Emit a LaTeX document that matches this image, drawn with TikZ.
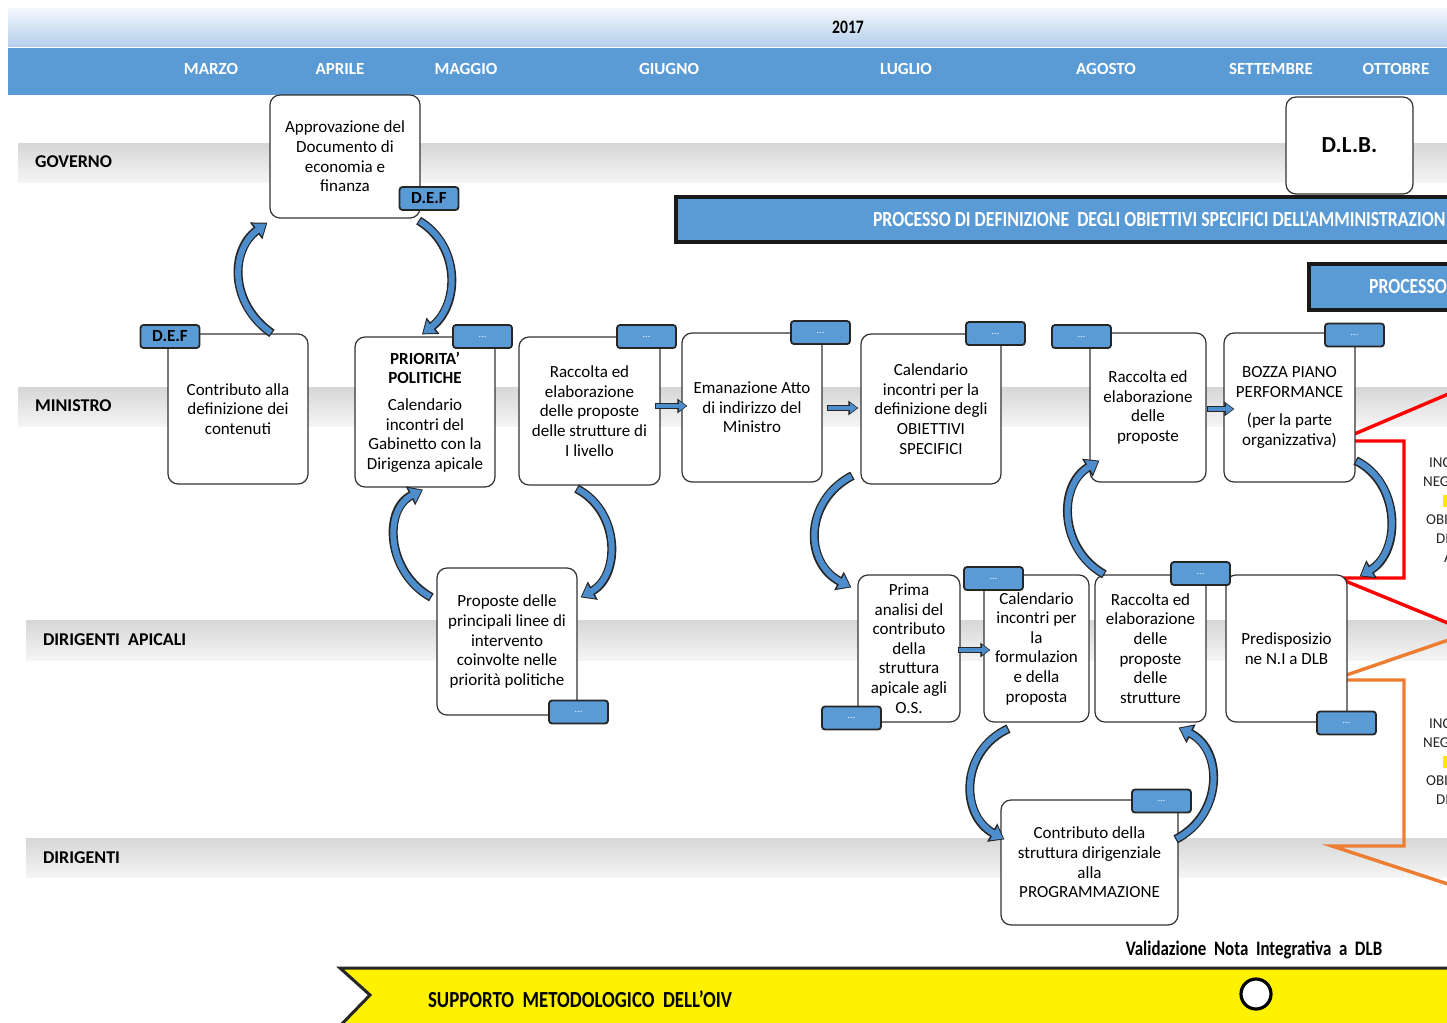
\documentclass[tikz,border=0pt]{standalone}
\usepackage{fontspec}
\setmainfont{Carlito}
\newfontfamily\narrowfont{Carlito}[FakeStretch=0.82]
\usetikzlibrary{arrows.meta,calc}

\definecolor{bandblue}{HTML}{5B9BD5}
\definecolor{headblue}{HTML}{B4CFEC}
\definecolor{arrblue}{HTML}{4E8DCC}
\definecolor{calloutorange}{HTML}{ED7D31}

\begin{document}
\begin{tikzpicture}[
    x=0.5pt, y=-0.5pt,
    box/.style={rectangle, draw=black!80, fill=white, line width=0.6pt, rounded corners=5pt, align=center, inner sep=1pt, font=\fontsize{8.5}{9.8}\selectfont},
    tag/.style={rectangle, draw=black!85, fill=bandblue, line width=0.9pt, rounded corners=1.5pt, minimum width=29.5pt, minimum height=11.5pt, inner sep=0pt, text=white, font=\fontsize{5}{5}\selectfont},
    deftag/.style={tag, text=black, font=\bfseries\fontsize{8.5}{9}\selectfont},
    lane/.style={top color=gray!32, bottom color=gray!8},
    lanelabel/.style={anchor=west, font=\bfseries\fontsize{9}{10}\selectfont},
    month/.style={text=white, font=\bfseries\fontsize{8.5}{10}\selectfont},
    banner/.style={draw=black!90, line width=1.6pt, fill=bandblue},
    bannertext/.style={anchor=west, text=white, font=\narrowfont\bfseries\fontsize{10.8}{12}\selectfont},
    sidetext/.style={anchor=west, text=black!85, font=\fontsize{7.5}{8}\selectfont},
    curvarrow/.style={draw=black!85, line width=4.5pt, -{Triangle[width=10pt,length=7pt]},
        postaction={draw=arrblue, line width=3pt, -{Triangle[width=7.6pt,length=5.4pt]}, shorten >=0.8pt, shorten <=0.6pt}},
    flatarrow/.style={draw=black!85, line width=3.2pt, -{Triangle[width=7pt,length=5pt]},
        postaction={draw=arrblue, line width=2pt, -{Triangle[width=5pt,length=3.6pt]}, shorten >=0.6pt, shorten <=0.5pt}}
]
\useasboundingbox (0,0) rectangle (1447,1023);
\clip (0,0) rectangle (1447,1023);
\fill[white] (0,0) rectangle (1447,1023);

% Timeline
\shade[top color=headblue!15, bottom color=headblue] (8,8) rectangle (1447,46);
\fill[bandblue] (8,48) rectangle (1447,95);
\node[font=\narrowfont\bfseries\fontsize{9.5}{10}\selectfont] (year) at (848,27) {2017};
\node[month] (mar) at (211,69) {MARZO};
\node[month] (apr) at (340,69) {APRILE};
\node[month] (mag) at (466,69) {MAGGIO};
\node[month] (giu) at (669,69) {GIUGNO};
\node[month] (lug) at (906,69) {LUGLIO};
\node[month] (ago) at (1106,69) {AGOSTO};
\node[month] (set) at (1271,69) {SETTEMBRE};
\node[month] (ott) at (1396,69) {OTTOBRE};

% Lanes
\shade[lane] (18,143) rectangle (1447,182);
\shade[lane] (18,387) rectangle (1447,426);
\shade[lane] (26,620) rectangle (1447,660);
\shade[lane] (26,838) rectangle (1447,877);
\node[lanelabel] (governo) at (28,162) {GOVERNO};
\node[lanelabel] (ministro) at (28,406) {MINISTRO};
\node[lanelabel] (apicali) at (36,640) {DIRIGENTI~~APICALI};
\node[lanelabel] (dirigenti) at (36,858) {DIRIGENTI};

% Banners
\draw[banner] (676,197) rectangle (1460,242);
\node[bannertext] (procobj) at (866,219) {PROCESSO DI DEFINIZIONE~~DEGLI OBIETTIVI SPECIFICI DELL'AMMINISTRAZION};
\draw[banner] (1309,264) rectangle (1460,310);
\node[bannertext] (proc) at (1362,286) {PROCESSO};

% Callouts
\draw[red, line width=1.7pt] (1460,389) -- (1338,441) -- (1404,441) -- (1404,578) -- (1338,578) -- (1460,628);
\draw[calloutorange, line width=1.7pt] (1460,636) -- (1332,680) -- (1404,680) -- (1404,846) -- (1332,846) -- (1460,888);
\node[sidetext] (inc1) at (1422,463) {INC};
\node[sidetext] (neg1) at (1416,482) {NEG};
\fill[yellow!90!orange] (1443,495) rectangle (1447,507);
\node[sidetext] (obi1) at (1419,520) {OBI};
\node[sidetext] (di1) at (1429,539) {DI};
\node[sidetext] (a1) at (1437,558) {A};
\node[sidetext] (inc2) at (1422,724) {INC};
\node[sidetext] (neg2) at (1416,743) {NEG};
\fill[yellow!90!orange] (1443,756) rectangle (1447,768);
\node[sidetext] (obi2) at (1419,781) {OBI};
\node[sidetext] (di2) at (1429,800) {DI};

% Activities
\node[box, minimum width=75pt, minimum height=61.5pt] (approv) at (345,156.5) {Approvazione del\\Documento di\\economia e\\finanza};
\node[box, minimum width=63.5pt, minimum height=48.5pt, font=\bfseries\fontsize{11.5}{12}\selectfont] (dlb) at (1349.5,145.5) {D.L.B.};
\node[box, minimum width=70pt, minimum height=75pt] (contrib) at (238,409) {Contributo alla\\definizione dei\\contenuti};
\node[box, minimum width=70pt, minimum height=75pt] (prior) at (425,412) {\textbf{PRIORITA’}\\\textbf{POLITICHE}\\[3.5pt]Calendario\\incontri del\\Gabinetto con la\\Dirigenza apicale};
\node[box, minimum width=70.5pt, minimum height=74pt] (raccI) at (589.5,411) {Raccolta ed\\elaborazione\\delle proposte\\delle strutture di\\I livello};
\node[box, minimum width=70pt, minimum height=74.5pt] (emanaz) at (752,407.5) {Emanazione Atto\\di indirizzo del\\Ministro};
\node[box, minimum width=70pt, minimum height=75pt] (calOS) at (931,409) {Calendario\\incontri per la\\definizione degli\\OBIETTIVI\\SPECIFICI};
\node[box, minimum width=58pt, minimum height=74.5pt] (raccP) at (1148,407.5) {Raccolta ed\\elaborazione\\delle\\proposte};
\node[box, minimum width=65.5pt, minimum height=74.5pt] (bozza) at (1289.5,407.5) {BOZZA PIANO\\PERFORMANCE\\[4.5pt](per la parte\\organizzativa)};
\node[box, minimum width=70pt, minimum height=73.5pt] (propos) at (507,641.5) {Proposte delle\\principali linee di\\intervento\\coinvolte nelle\\priorità politiche};
\node[box, minimum width=51pt, minimum height=73.5pt] (prima) at (909,648.5) {Prima\\analisi del\\contributo\\della\\struttura\\apicale agli\\O.S.};
\node[box, minimum width=52.5pt, minimum height=73.5pt] (calform) at (1036.5,648.5) {Calendario\\incontri per\\la\\formulazion\\e della\\proposta};
\node[box, minimum width=55.5pt, minimum height=73.5pt] (raccS) at (1150.5,648.5) {Raccolta ed\\elaborazione\\delle\\proposte\\delle\\strutture};
\node[box, minimum width=60.5pt, minimum height=73.5pt] (predisp) at (1286.5,648.5) {Predisposizio\\ne N.I a DLB};
\node[box, minimum width=88.5pt, minimum height=62.5pt] (contribD) at (1089.5,862.5) {Contributo della\\struttura dirigenziale\\alla\\PROGRAMMAZIONE};

% Tags
\node[deftag] (tApprov) at (429,198.5) {D.E.F};
\node[deftag] (tContrib) at (170,336.5) {D.E.F};
\node[tag] (tPrior) at (482.5,336.5) {...};
\node[tag] (tRaccI) at (646.5,336.5) {...};
\node[tag] (tEmanaz) at (820.5,332.5) {...};
\node[tag] (tCalOS) at (995.5,333.5) {...};
\node[tag] (tRaccP) at (1081.5,336.5) {...};
\node[tag] (tBozza) at (1354.5,335) {...};
\node[tag] (tPropos) at (578.5,712) {...};
\node[tag] (tPrima) at (851.5,718) {...};
\node[tag] (tCalform) at (993.5,578.5) {...};
\node[tag] (tRaccS) at (1200.5,573.5) {...};
\node[tag] (tPredisp) at (1346.5,723) {...};
\node[tag] (tContribD) at (1161.5,801) {...};

% Flows
\draw[curvarrow] ($(contrib.north)+(34,0)$) .. controls +(-42,-29) and +(-38,28) .. ($(approv.south west)+(-2,4)$);
\draw[curvarrow] ($(approv.south east)+(-2,2)$) .. controls +(42,25) and +(38,-30) .. ($(prior.north)+(-3,-2)$);
\draw[curvarrow] ($(propos.north west)+(-5,30)$) .. controls +(-45,-25) and +(-40,20) .. ($(prior.south)+(-2,2)$);
\draw[curvarrow] ($(raccI.south)+(-13,3)$) .. controls +(44,23) and +(40,-22) .. ($(propos.north east)+(3,30)$);
\draw[curvarrow] ($(calOS.south west)+(-8,-9)$) .. controls +(-48,25) and +(-48,-25) .. ($(prima.north west)+(-6,13)$);
\draw[curvarrow] ($(calform.south)+(-28,6)$) .. controls +(-48,22) and +(-45,-25) .. ($(contribD.north west)+(4,40)$);
\draw[curvarrow] ($(contribD.north east)+(-3,40)$) .. controls +(48,-25) and +(45,22) .. ($(raccS.south)+(28,5)$);
\draw[curvarrow] ($(raccS.north west)+(10,0)$) .. controls +(-45,-25) and +(-42,25) .. ($(raccP.south west)+(10,-22)$);
\draw[curvarrow] ($(bozza.south east)+(0,-22)$) .. controls +(45,22) and +(42,-25) .. ($(predisp.north east)+(12,2)$);
\draw[flatarrow] ($(raccI.east)+(-6,-5)$) -- ($(emanaz.west)+(6,-1.5)$);
\draw[flatarrow] ($(emanaz.east)+(4,0.5)$) -- ($(calOS.west)+(-2,-1)$);
\draw[flatarrow] ($(raccP.east)+(0,1.5)$) -- ($(bozza.west)+(11,1.5)$);
\draw[flatarrow] ($(prima.east)+(-3,1.5)$) -- ($(calform.west)+(7,1.5)$);

% OIV support
\draw[fill=yellow, draw=black!85, line width=1.5pt] (340,968) -- (1460,968) -- (1460,1030) -- (336,1030) -- (370,995) -- cycle;
\node[anchor=west, font=\narrowfont\bfseries\fontsize{11.5}{12}\selectfont] (oiv) at (421,999) {SUPPORTO~~METODOLOGICO~~DELL’OIV};
\node[circle, draw=black, line width=1.6pt, fill=white, minimum size=15pt, inner sep=0pt] (valid) at (1256,994) {};
\node[font=\narrowfont\bfseries\fontsize{10.3}{11}\selectfont] (validlbl) at (1254,950) {Validazione~~Nota~~Integrativa~~a~~DLB};

\end{tikzpicture}
\end{document}
